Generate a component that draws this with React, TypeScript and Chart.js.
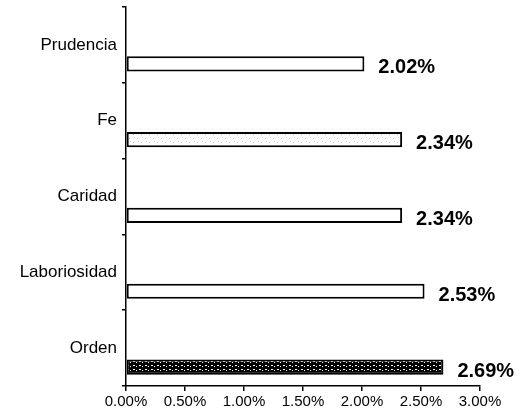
import React, { useEffect, useRef } from "react";
import { Chart, registerables } from "chart.js";

Chart.register(...registerables);

const categories = ["Prudencia", "Fe", "Caridad", "Laboriosidad", "Orden"];
const values = [2.02, 2.34, 2.34, 2.53, 2.69];
const emptySlot = [null, null, null, null, null];
const fillKinds = ["white", "stipple", "white", "white", "check"];
const xTicks = [0, 0.5, 1, 1.5, 2, 2.5, 3];

const FONT = "'Liberation Sans', Arial, sans-serif";

function makePattern(kind: string): CanvasPattern | string {
  if (kind === "white") return "#ffffff";
  const c = document.createElement("canvas");
  const ctx = c.getContext("2d")!;
  if (kind === "stipple") {
    c.width = 8;
    c.height = 8;
    ctx.fillStyle = "#ffffff";
    ctx.fillRect(0, 0, 8, 8);
    ctx.fillStyle = "#b0b0b0";
    ctx.fillRect(1, 2, 1, 1);
    ctx.fillRect(5, 6, 1, 1);
    ctx.fillStyle = "#d8d8d8";
    ctx.fillRect(6, 1, 1, 1);
    ctx.fillRect(2, 5, 1, 1);
  } else {
    c.width = 6;
    c.height = 4;
    ctx.fillStyle = "#000000";
    ctx.fillRect(0, 0, 6, 4);
    ctx.fillStyle = "#ffffff";
    ctx.fillRect(1, 1, 2, 1);
    ctx.fillRect(4, 2, 1, 1);
  }
  return ctx.createPattern(c, "repeat")!;
}

const valueLabels = {
  id: "valueLabels",
  afterDatasetsDraw(chart: any) {
    const ctx = chart.ctx;
    const meta = chart.getDatasetMeta(1);
    ctx.save();
    ctx.fillStyle = "#000000";
    ctx.font = `bold 20px ${FONT}`;
    ctx.textAlign = "left";
    ctx.textBaseline = "middle";
    meta.data.forEach((bar: any, i: number) => {
      const v = values[i];
      ctx.fillText(v.toFixed(2) + "%", bar.x + 14, bar.y + 4);
    });
    ctx.restore();
  },
};

export default function App() {
  const ref = useRef<HTMLCanvasElement | null>(null);

  useEffect(() => {
    document.body.style.margin = "0";
    const canvas = ref.current!;
    const chart = new Chart(canvas, {
      type: "bar",
      data: {
        labels: categories,
        datasets: [
          {
            data: emptySlot as any,
            backgroundColor: "#ffffff",
          },
          {
            data: values,
            backgroundColor: fillKinds.map(makePattern) as any,
            borderColor: "#000000",
            borderWidth: 2,
            borderSkipped: false,
          },
        ],
      },
      options: {
        indexAxis: "y",
        animation: false,
        responsive: true,
        maintainAspectRatio: false,
        datasets: {
          bar: {
            categoryPercentage: 1,
            barPercentage: 0.4,
          },
        },
        layout: { padding: { top: 7, right: 45, left: 0, bottom: 0 } },
        plugins: {
          legend: { display: false },
          tooltip: { enabled: false },
        },
        scales: {
          x: {
            min: 0,
            max: 3,
            afterBuildTicks: (scale: any) => {
              scale.ticks = xTicks.map((v) => ({ value: v }));
            },
            afterFit: (scale: any) => {
              scale.height = 34;
            },
            border: { display: true, color: "#000000", width: 1.5 },
            grid: {
              drawOnChartArea: false,
              drawTicks: true,
              tickLength: 5,
              color: "#000000",
              lineWidth: 1.5,
            },
            ticks: {
              color: "#000000",
              padding: 2,
              maxRotation: 0,
              font: { family: FONT, size: 15 },
              callback: (v: any) => Number(v).toFixed(2) + "%",
            },
          },
          y: {
            afterFit: (scale: any) => {
              scale.width = 126;
              scale.paddingTop = 0;
              scale.paddingBottom = 0;
            },
            border: { display: true, color: "#000000", width: 1.5 },
            grid: {
              drawOnChartArea: false,
              drawTicks: true,
              tickLength: 4,
              color: "#000000",
              lineWidth: 1.5,
            },
            ticks: {
              color: "#000000",
              padding: 5,
              font: { family: FONT, size: 17 },
            },
          },
        },
      },
      plugins: [valueLabels],
    });
    return () => chart.destroy();
  }, []);

  return (
    <div style={{ position: "absolute", left: 0, top: 0, width: 525, height: 420, background: "#ffffff" }}>
      <canvas ref={ref} />
    </div>
  );
}
